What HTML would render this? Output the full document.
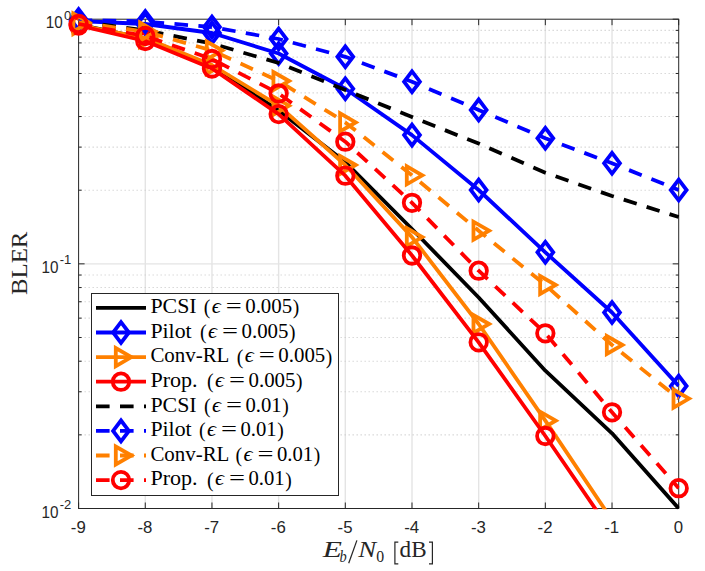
<!DOCTYPE html><html><head><meta charset="utf-8"><style>html,body{margin:0;padding:0;background:#fff}svg{display:block}</style></head><body><svg width="705" height="571" viewBox="0 0 705 571">
<defs><clipPath id="cp"><rect x="78.0" y="18.599999999999998" width="601.3000000000001" height="490.7"/></clipPath></defs>
<rect width="705" height="571" fill="#fff"/>
<line x1="145.28" y1="19.2" x2="145.28" y2="508.5" stroke="#e4e4e4" stroke-width="1.4"/>
<line x1="211.96" y1="19.2" x2="211.96" y2="508.5" stroke="#e4e4e4" stroke-width="1.4"/>
<line x1="278.63" y1="19.2" x2="278.63" y2="508.5" stroke="#e4e4e4" stroke-width="1.4"/>
<line x1="345.31" y1="19.2" x2="345.31" y2="508.5" stroke="#e4e4e4" stroke-width="1.4"/>
<line x1="411.99" y1="19.2" x2="411.99" y2="508.5" stroke="#e4e4e4" stroke-width="1.4"/>
<line x1="478.67" y1="19.2" x2="478.67" y2="508.5" stroke="#e4e4e4" stroke-width="1.4"/>
<line x1="545.34" y1="19.2" x2="545.34" y2="508.5" stroke="#e4e4e4" stroke-width="1.4"/>
<line x1="612.02" y1="19.2" x2="612.02" y2="508.5" stroke="#e4e4e4" stroke-width="1.4"/>
<line x1="78.6" y1="263.85" x2="678.7" y2="263.85" stroke="#e4e4e4" stroke-width="1.4"/>
<line x1="80.6" y1="190.20" x2="678.7" y2="190.20" stroke="#cacaca" stroke-width="1.1" stroke-dasharray="1.1 2.9"/>
<line x1="80.6" y1="147.12" x2="678.7" y2="147.12" stroke="#cacaca" stroke-width="1.1" stroke-dasharray="1.1 2.9"/>
<line x1="80.6" y1="116.56" x2="678.7" y2="116.56" stroke="#cacaca" stroke-width="1.1" stroke-dasharray="1.1 2.9"/>
<line x1="80.6" y1="92.85" x2="678.7" y2="92.85" stroke="#cacaca" stroke-width="1.1" stroke-dasharray="1.1 2.9"/>
<line x1="80.6" y1="73.48" x2="678.7" y2="73.48" stroke="#cacaca" stroke-width="1.1" stroke-dasharray="1.1 2.9"/>
<line x1="80.6" y1="57.10" x2="678.7" y2="57.10" stroke="#cacaca" stroke-width="1.1" stroke-dasharray="1.1 2.9"/>
<line x1="80.6" y1="42.91" x2="678.7" y2="42.91" stroke="#cacaca" stroke-width="1.1" stroke-dasharray="1.1 2.9"/>
<line x1="80.6" y1="30.39" x2="678.7" y2="30.39" stroke="#cacaca" stroke-width="1.1" stroke-dasharray="1.1 2.9"/>
<line x1="80.6" y1="434.85" x2="678.7" y2="434.85" stroke="#cacaca" stroke-width="1.1" stroke-dasharray="1.1 2.9"/>
<line x1="80.6" y1="391.77" x2="678.7" y2="391.77" stroke="#cacaca" stroke-width="1.1" stroke-dasharray="1.1 2.9"/>
<line x1="80.6" y1="361.21" x2="678.7" y2="361.21" stroke="#cacaca" stroke-width="1.1" stroke-dasharray="1.1 2.9"/>
<line x1="80.6" y1="337.50" x2="678.7" y2="337.50" stroke="#cacaca" stroke-width="1.1" stroke-dasharray="1.1 2.9"/>
<line x1="80.6" y1="318.13" x2="678.7" y2="318.13" stroke="#cacaca" stroke-width="1.1" stroke-dasharray="1.1 2.9"/>
<line x1="80.6" y1="301.75" x2="678.7" y2="301.75" stroke="#cacaca" stroke-width="1.1" stroke-dasharray="1.1 2.9"/>
<line x1="80.6" y1="287.56" x2="678.7" y2="287.56" stroke="#cacaca" stroke-width="1.1" stroke-dasharray="1.1 2.9"/>
<line x1="80.6" y1="275.04" x2="678.7" y2="275.04" stroke="#cacaca" stroke-width="1.1" stroke-dasharray="1.1 2.9"/>
<line x1="78.60" y1="508.5" x2="78.60" y2="502.5" stroke="#262626" stroke-width="1"/>
<line x1="78.60" y1="19.2" x2="78.60" y2="25.2" stroke="#262626" stroke-width="1"/>
<line x1="145.28" y1="508.5" x2="145.28" y2="502.5" stroke="#262626" stroke-width="1"/>
<line x1="145.28" y1="19.2" x2="145.28" y2="25.2" stroke="#262626" stroke-width="1"/>
<line x1="211.96" y1="508.5" x2="211.96" y2="502.5" stroke="#262626" stroke-width="1"/>
<line x1="211.96" y1="19.2" x2="211.96" y2="25.2" stroke="#262626" stroke-width="1"/>
<line x1="278.63" y1="508.5" x2="278.63" y2="502.5" stroke="#262626" stroke-width="1"/>
<line x1="278.63" y1="19.2" x2="278.63" y2="25.2" stroke="#262626" stroke-width="1"/>
<line x1="345.31" y1="508.5" x2="345.31" y2="502.5" stroke="#262626" stroke-width="1"/>
<line x1="345.31" y1="19.2" x2="345.31" y2="25.2" stroke="#262626" stroke-width="1"/>
<line x1="411.99" y1="508.5" x2="411.99" y2="502.5" stroke="#262626" stroke-width="1"/>
<line x1="411.99" y1="19.2" x2="411.99" y2="25.2" stroke="#262626" stroke-width="1"/>
<line x1="478.67" y1="508.5" x2="478.67" y2="502.5" stroke="#262626" stroke-width="1"/>
<line x1="478.67" y1="19.2" x2="478.67" y2="25.2" stroke="#262626" stroke-width="1"/>
<line x1="545.34" y1="508.5" x2="545.34" y2="502.5" stroke="#262626" stroke-width="1"/>
<line x1="545.34" y1="19.2" x2="545.34" y2="25.2" stroke="#262626" stroke-width="1"/>
<line x1="612.02" y1="508.5" x2="612.02" y2="502.5" stroke="#262626" stroke-width="1"/>
<line x1="612.02" y1="19.2" x2="612.02" y2="25.2" stroke="#262626" stroke-width="1"/>
<line x1="678.70" y1="508.5" x2="678.70" y2="502.5" stroke="#262626" stroke-width="1"/>
<line x1="678.70" y1="19.2" x2="678.70" y2="25.2" stroke="#262626" stroke-width="1"/>
<line x1="78.6" y1="19.2" x2="84.6" y2="19.2" stroke="#262626" stroke-width="1"/>
<line x1="678.7" y1="19.2" x2="672.7" y2="19.2" stroke="#262626" stroke-width="1"/>
<line x1="78.6" y1="263.85" x2="84.6" y2="263.85" stroke="#262626" stroke-width="1"/>
<line x1="678.7" y1="263.85" x2="672.7" y2="263.85" stroke="#262626" stroke-width="1"/>
<line x1="78.6" y1="508.5" x2="84.6" y2="508.5" stroke="#262626" stroke-width="1"/>
<line x1="678.7" y1="508.5" x2="672.7" y2="508.5" stroke="#262626" stroke-width="1"/>
<line x1="78.6" y1="190.20" x2="81.6" y2="190.20" stroke="#262626" stroke-width="1"/>
<line x1="678.7" y1="190.20" x2="675.7" y2="190.20" stroke="#262626" stroke-width="1"/>
<line x1="78.6" y1="147.12" x2="81.6" y2="147.12" stroke="#262626" stroke-width="1"/>
<line x1="678.7" y1="147.12" x2="675.7" y2="147.12" stroke="#262626" stroke-width="1"/>
<line x1="78.6" y1="116.56" x2="81.6" y2="116.56" stroke="#262626" stroke-width="1"/>
<line x1="678.7" y1="116.56" x2="675.7" y2="116.56" stroke="#262626" stroke-width="1"/>
<line x1="78.6" y1="92.85" x2="81.6" y2="92.85" stroke="#262626" stroke-width="1"/>
<line x1="678.7" y1="92.85" x2="675.7" y2="92.85" stroke="#262626" stroke-width="1"/>
<line x1="78.6" y1="73.48" x2="81.6" y2="73.48" stroke="#262626" stroke-width="1"/>
<line x1="678.7" y1="73.48" x2="675.7" y2="73.48" stroke="#262626" stroke-width="1"/>
<line x1="78.6" y1="57.10" x2="81.6" y2="57.10" stroke="#262626" stroke-width="1"/>
<line x1="678.7" y1="57.10" x2="675.7" y2="57.10" stroke="#262626" stroke-width="1"/>
<line x1="78.6" y1="42.91" x2="81.6" y2="42.91" stroke="#262626" stroke-width="1"/>
<line x1="678.7" y1="42.91" x2="675.7" y2="42.91" stroke="#262626" stroke-width="1"/>
<line x1="78.6" y1="30.39" x2="81.6" y2="30.39" stroke="#262626" stroke-width="1"/>
<line x1="678.7" y1="30.39" x2="675.7" y2="30.39" stroke="#262626" stroke-width="1"/>
<line x1="78.6" y1="434.85" x2="81.6" y2="434.85" stroke="#262626" stroke-width="1"/>
<line x1="678.7" y1="434.85" x2="675.7" y2="434.85" stroke="#262626" stroke-width="1"/>
<line x1="78.6" y1="391.77" x2="81.6" y2="391.77" stroke="#262626" stroke-width="1"/>
<line x1="678.7" y1="391.77" x2="675.7" y2="391.77" stroke="#262626" stroke-width="1"/>
<line x1="78.6" y1="361.21" x2="81.6" y2="361.21" stroke="#262626" stroke-width="1"/>
<line x1="678.7" y1="361.21" x2="675.7" y2="361.21" stroke="#262626" stroke-width="1"/>
<line x1="78.6" y1="337.50" x2="81.6" y2="337.50" stroke="#262626" stroke-width="1"/>
<line x1="678.7" y1="337.50" x2="675.7" y2="337.50" stroke="#262626" stroke-width="1"/>
<line x1="78.6" y1="318.13" x2="81.6" y2="318.13" stroke="#262626" stroke-width="1"/>
<line x1="678.7" y1="318.13" x2="675.7" y2="318.13" stroke="#262626" stroke-width="1"/>
<line x1="78.6" y1="301.75" x2="81.6" y2="301.75" stroke="#262626" stroke-width="1"/>
<line x1="678.7" y1="301.75" x2="675.7" y2="301.75" stroke="#262626" stroke-width="1"/>
<line x1="78.6" y1="287.56" x2="81.6" y2="287.56" stroke="#262626" stroke-width="1"/>
<line x1="678.7" y1="287.56" x2="675.7" y2="287.56" stroke="#262626" stroke-width="1"/>
<line x1="78.6" y1="275.04" x2="81.6" y2="275.04" stroke="#262626" stroke-width="1"/>
<line x1="678.7" y1="275.04" x2="675.7" y2="275.04" stroke="#262626" stroke-width="1"/>
<rect x="78.6" y="19.2" width="600.1" height="489.3" fill="none" stroke="#262626" stroke-width="1"/>
<polyline points="78.60,24.50 145.28,38.50 211.96,66.00 278.63,110.50 345.31,162.00 411.99,229.00 478.67,297.50 545.34,370.70 612.02,433.30 678.70,508.50" fill="none" stroke="#000000" stroke-width="3.8" stroke-linejoin="round" clip-path="url(#cp)"/>
<polyline points="78.60,21.00 145.28,24.00 211.96,33.00 278.63,53.50 345.31,88.70 411.99,135.10 478.67,190.00 545.34,252.30 612.02,312.50 678.70,386.00" fill="none" stroke="#0000ff" stroke-width="3.8" stroke-linejoin="round" clip-path="url(#cp)"/>
<path d="M78.60 10.60L86.50 21.00L78.60 31.40L70.70 21.00Z" fill="none" stroke="#0000ff" stroke-width="3.8" stroke-linejoin="miter"/>
<path d="M145.28 13.60L153.18 24.00L145.28 34.40L137.38 24.00Z" fill="none" stroke="#0000ff" stroke-width="3.8" stroke-linejoin="miter"/>
<path d="M211.96 22.60L219.86 33.00L211.96 43.40L204.06 33.00Z" fill="none" stroke="#0000ff" stroke-width="3.8" stroke-linejoin="miter"/>
<path d="M278.63 43.10L286.53 53.50L278.63 63.90L270.73 53.50Z" fill="none" stroke="#0000ff" stroke-width="3.8" stroke-linejoin="miter"/>
<path d="M345.31 78.30L353.21 88.70L345.31 99.10L337.41 88.70Z" fill="none" stroke="#0000ff" stroke-width="3.8" stroke-linejoin="miter"/>
<path d="M411.99 124.70L419.89 135.10L411.99 145.50L404.09 135.10Z" fill="none" stroke="#0000ff" stroke-width="3.8" stroke-linejoin="miter"/>
<path d="M478.67 179.60L486.57 190.00L478.67 200.40L470.77 190.00Z" fill="none" stroke="#0000ff" stroke-width="3.8" stroke-linejoin="miter"/>
<path d="M545.34 241.90L553.24 252.30L545.34 262.70L537.44 252.30Z" fill="none" stroke="#0000ff" stroke-width="3.8" stroke-linejoin="miter"/>
<path d="M612.02 302.10L619.92 312.50L612.02 322.90L604.12 312.50Z" fill="none" stroke="#0000ff" stroke-width="3.8" stroke-linejoin="miter"/>
<path d="M678.70 375.60L686.60 386.00L678.70 396.40L670.80 386.00Z" fill="none" stroke="#0000ff" stroke-width="3.8" stroke-linejoin="miter"/>
<polyline points="78.60,25.00 145.28,38.00 211.96,65.00 278.63,105.70 345.31,165.00 411.99,237.10 478.67,324.00 545.34,420.70 612.02,520.00 678.70,620.00" fill="none" stroke="#ff8000" stroke-width="3.8" stroke-linejoin="round" clip-path="url(#cp)"/>
<path d="M89.00 25.00L73.40 15.99L73.40 34.01Z" fill="none" stroke="#ff8000" stroke-width="3.8" stroke-linejoin="miter" stroke-miterlimit="10"/>
<path d="M155.68 38.00L140.08 28.99L140.08 47.01Z" fill="none" stroke="#ff8000" stroke-width="3.8" stroke-linejoin="miter" stroke-miterlimit="10"/>
<path d="M222.36 65.00L206.76 55.99L206.76 74.01Z" fill="none" stroke="#ff8000" stroke-width="3.8" stroke-linejoin="miter" stroke-miterlimit="10"/>
<path d="M289.03 105.70L273.43 96.69L273.43 114.71Z" fill="none" stroke="#ff8000" stroke-width="3.8" stroke-linejoin="miter" stroke-miterlimit="10"/>
<path d="M355.71 165.00L340.11 155.99L340.11 174.01Z" fill="none" stroke="#ff8000" stroke-width="3.8" stroke-linejoin="miter" stroke-miterlimit="10"/>
<path d="M422.39 237.10L406.79 228.09L406.79 246.11Z" fill="none" stroke="#ff8000" stroke-width="3.8" stroke-linejoin="miter" stroke-miterlimit="10"/>
<path d="M489.07 324.00L473.47 314.99L473.47 333.01Z" fill="none" stroke="#ff8000" stroke-width="3.8" stroke-linejoin="miter" stroke-miterlimit="10"/>
<path d="M555.74 420.70L540.14 411.69L540.14 429.71Z" fill="none" stroke="#ff8000" stroke-width="3.8" stroke-linejoin="miter" stroke-miterlimit="10"/>
<polyline points="78.60,25.50 145.28,41.00 211.96,68.50 278.63,114.10 345.31,175.70 411.99,255.50 478.67,342.30 545.34,436.00 612.02,533.00 678.70,632.00" fill="none" stroke="#ff0000" stroke-width="3.8" stroke-linejoin="round" clip-path="url(#cp)"/>
<circle cx="78.60" cy="25.50" r="8.25" fill="none" stroke="#ff0000" stroke-width="3.8"/>
<circle cx="145.28" cy="41.00" r="8.25" fill="none" stroke="#ff0000" stroke-width="3.8"/>
<circle cx="211.96" cy="68.50" r="8.25" fill="none" stroke="#ff0000" stroke-width="3.8"/>
<circle cx="278.63" cy="114.10" r="8.25" fill="none" stroke="#ff0000" stroke-width="3.8"/>
<circle cx="345.31" cy="175.70" r="8.25" fill="none" stroke="#ff0000" stroke-width="3.8"/>
<circle cx="411.99" cy="255.50" r="8.25" fill="none" stroke="#ff0000" stroke-width="3.8"/>
<circle cx="478.67" cy="342.30" r="8.25" fill="none" stroke="#ff0000" stroke-width="3.8"/>
<circle cx="545.34" cy="436.00" r="8.25" fill="none" stroke="#ff0000" stroke-width="3.8"/>
<polyline points="78.60,21.60 145.28,30.30 211.96,43.50 278.63,63.00 345.31,90.00 411.99,117.00 478.67,143.60 545.34,172.70 612.02,196.00 678.70,217.00" fill="none" stroke="#000000" stroke-width="3.8" stroke-linejoin="round" stroke-dasharray="13.6 10.4" clip-path="url(#cp)"/>
<polyline points="78.60,19.50 145.28,21.60 211.96,27.00 278.63,39.00 345.31,56.80 411.99,81.70 478.67,109.90 545.34,138.30 612.02,163.30 678.70,190.00" fill="none" stroke="#0000ff" stroke-width="3.8" stroke-linejoin="round" stroke-dasharray="13.6 10.4" clip-path="url(#cp)"/>
<path d="M78.60 9.10L86.50 19.50L78.60 29.90L70.70 19.50Z" fill="none" stroke="#0000ff" stroke-width="3.8" stroke-linejoin="miter"/>
<path d="M145.28 11.20L153.18 21.60L145.28 32.00L137.38 21.60Z" fill="none" stroke="#0000ff" stroke-width="3.8" stroke-linejoin="miter"/>
<path d="M211.96 16.60L219.86 27.00L211.96 37.40L204.06 27.00Z" fill="none" stroke="#0000ff" stroke-width="3.8" stroke-linejoin="miter"/>
<path d="M278.63 28.60L286.53 39.00L278.63 49.40L270.73 39.00Z" fill="none" stroke="#0000ff" stroke-width="3.8" stroke-linejoin="miter"/>
<path d="M345.31 46.40L353.21 56.80L345.31 67.20L337.41 56.80Z" fill="none" stroke="#0000ff" stroke-width="3.8" stroke-linejoin="miter"/>
<path d="M411.99 71.30L419.89 81.70L411.99 92.10L404.09 81.70Z" fill="none" stroke="#0000ff" stroke-width="3.8" stroke-linejoin="miter"/>
<path d="M478.67 99.50L486.57 109.90L478.67 120.30L470.77 109.90Z" fill="none" stroke="#0000ff" stroke-width="3.8" stroke-linejoin="miter"/>
<path d="M545.34 127.90L553.24 138.30L545.34 148.70L537.44 138.30Z" fill="none" stroke="#0000ff" stroke-width="3.8" stroke-linejoin="miter"/>
<path d="M612.02 152.90L619.92 163.30L612.02 173.70L604.12 163.30Z" fill="none" stroke="#0000ff" stroke-width="3.8" stroke-linejoin="miter"/>
<path d="M678.70 179.60L686.60 190.00L678.70 200.40L670.80 190.00Z" fill="none" stroke="#0000ff" stroke-width="3.8" stroke-linejoin="miter"/>
<polyline points="78.60,22.50 145.28,31.60 211.96,50.50 278.63,81.00 345.31,122.40 411.99,175.30 478.67,230.70 545.34,285.00 612.02,345.00 678.70,398.60" fill="none" stroke="#ff8000" stroke-width="3.8" stroke-linejoin="round" stroke-dasharray="13.6 10.4" clip-path="url(#cp)"/>
<path d="M89.00 22.50L73.40 13.49L73.40 31.51Z" fill="none" stroke="#ff8000" stroke-width="3.8" stroke-linejoin="miter" stroke-miterlimit="10"/>
<path d="M155.68 31.60L140.08 22.59L140.08 40.61Z" fill="none" stroke="#ff8000" stroke-width="3.8" stroke-linejoin="miter" stroke-miterlimit="10"/>
<path d="M222.36 50.50L206.76 41.49L206.76 59.51Z" fill="none" stroke="#ff8000" stroke-width="3.8" stroke-linejoin="miter" stroke-miterlimit="10"/>
<path d="M289.03 81.00L273.43 71.99L273.43 90.01Z" fill="none" stroke="#ff8000" stroke-width="3.8" stroke-linejoin="miter" stroke-miterlimit="10"/>
<path d="M355.71 122.40L340.11 113.39L340.11 131.41Z" fill="none" stroke="#ff8000" stroke-width="3.8" stroke-linejoin="miter" stroke-miterlimit="10"/>
<path d="M422.39 175.30L406.79 166.29L406.79 184.31Z" fill="none" stroke="#ff8000" stroke-width="3.8" stroke-linejoin="miter" stroke-miterlimit="10"/>
<path d="M489.07 230.70L473.47 221.69L473.47 239.71Z" fill="none" stroke="#ff8000" stroke-width="3.8" stroke-linejoin="miter" stroke-miterlimit="10"/>
<path d="M555.74 285.00L540.14 275.99L540.14 294.01Z" fill="none" stroke="#ff8000" stroke-width="3.8" stroke-linejoin="miter" stroke-miterlimit="10"/>
<path d="M622.42 345.00L606.82 335.99L606.82 354.01Z" fill="none" stroke="#ff8000" stroke-width="3.8" stroke-linejoin="miter" stroke-miterlimit="10"/>
<path d="M689.10 398.60L673.50 389.59L673.50 407.61Z" fill="none" stroke="#ff8000" stroke-width="3.8" stroke-linejoin="miter" stroke-miterlimit="10"/>
<polyline points="78.60,24.00 145.28,36.00 211.96,59.00 278.63,93.50 345.31,141.70 411.99,202.80 478.67,270.70 545.34,333.30 612.02,412.30 678.70,488.20" fill="none" stroke="#ff0000" stroke-width="3.8" stroke-linejoin="round" stroke-dasharray="13.6 10.4" clip-path="url(#cp)"/>
<circle cx="78.60" cy="24.00" r="8.25" fill="none" stroke="#ff0000" stroke-width="3.8"/>
<circle cx="145.28" cy="36.00" r="8.25" fill="none" stroke="#ff0000" stroke-width="3.8"/>
<circle cx="211.96" cy="59.00" r="8.25" fill="none" stroke="#ff0000" stroke-width="3.8"/>
<circle cx="278.63" cy="93.50" r="8.25" fill="none" stroke="#ff0000" stroke-width="3.8"/>
<circle cx="345.31" cy="141.70" r="8.25" fill="none" stroke="#ff0000" stroke-width="3.8"/>
<circle cx="411.99" cy="202.80" r="8.25" fill="none" stroke="#ff0000" stroke-width="3.8"/>
<circle cx="478.67" cy="270.70" r="8.25" fill="none" stroke="#ff0000" stroke-width="3.8"/>
<circle cx="545.34" cy="333.30" r="8.25" fill="none" stroke="#ff0000" stroke-width="3.8"/>
<circle cx="612.02" cy="412.30" r="8.25" fill="none" stroke="#ff0000" stroke-width="3.8"/>
<circle cx="678.70" cy="488.20" r="8.25" fill="none" stroke="#ff0000" stroke-width="3.8"/>
<text x="78.30" y="533" font-family="Liberation Sans, sans-serif" font-size="16.8" fill="#262626" text-anchor="middle">-9</text>
<text x="144.98" y="533" font-family="Liberation Sans, sans-serif" font-size="16.8" fill="#262626" text-anchor="middle">-8</text>
<text x="211.66" y="533" font-family="Liberation Sans, sans-serif" font-size="16.8" fill="#262626" text-anchor="middle">-7</text>
<text x="278.33" y="533" font-family="Liberation Sans, sans-serif" font-size="16.8" fill="#262626" text-anchor="middle">-6</text>
<text x="345.01" y="533" font-family="Liberation Sans, sans-serif" font-size="16.8" fill="#262626" text-anchor="middle">-5</text>
<text x="411.69" y="533" font-family="Liberation Sans, sans-serif" font-size="16.8" fill="#262626" text-anchor="middle">-4</text>
<text x="478.37" y="533" font-family="Liberation Sans, sans-serif" font-size="16.8" fill="#262626" text-anchor="middle">-3</text>
<text x="545.04" y="533" font-family="Liberation Sans, sans-serif" font-size="16.8" fill="#262626" text-anchor="middle">-2</text>
<text x="611.72" y="533" font-family="Liberation Sans, sans-serif" font-size="16.8" fill="#262626" text-anchor="middle">-1</text>
<text x="678.40" y="533" font-family="Liberation Sans, sans-serif" font-size="16.8" fill="#262626" text-anchor="middle">0</text>
<text x="64.07" y="19.80" font-family="Liberation Sans, sans-serif" font-size="13" fill="#262626">0</text>
<text x="45.87" y="28.30" font-family="Liberation Sans, sans-serif" font-size="16.8" fill="#262626" textLength="17.0" lengthAdjust="spacingAndGlyphs">10</text>
<text x="59.74" y="264.45" font-family="Liberation Sans, sans-serif" font-size="13" fill="#262626">-1</text>
<text x="41.54" y="272.95" font-family="Liberation Sans, sans-serif" font-size="16.8" fill="#262626" textLength="17.0" lengthAdjust="spacingAndGlyphs">10</text>
<text x="59.74" y="509.10" font-family="Liberation Sans, sans-serif" font-size="13" fill="#262626">-2</text>
<text x="41.54" y="517.60" font-family="Liberation Sans, sans-serif" font-size="16.8" fill="#262626" textLength="17.0" lengthAdjust="spacingAndGlyphs">10</text>
<text transform="translate(26.9,263.3) rotate(-90)" font-family="Liberation Serif, serif" font-size="24" fill="#262626" text-anchor="middle" textLength="63.5" lengthAdjust="spacingAndGlyphs">BLER</text>
<text x="322.8" y="557.4" font-family="Liberation Serif, serif" font-size="23.2" fill="#262626" font-style="italic" textLength="19.2" lengthAdjust="spacingAndGlyphs">E</text>
<text x="339.6" y="561.6999999999999" font-family="Liberation Serif, serif" font-size="17" fill="#262626" font-style="italic" textLength="7.2" lengthAdjust="spacingAndGlyphs">b</text>
<line x1="348.7" y1="563.2" x2="356.9" y2="540.4" stroke="#262626" stroke-width="1.25"/>
<text x="358.3" y="557.4" font-family="Liberation Serif, serif" font-size="23.2" fill="#262626" font-style="italic" textLength="17.9" lengthAdjust="spacingAndGlyphs">N</text>
<text x="376.2" y="561.9" font-family="Liberation Serif, serif" font-size="16.6" fill="#262626" textLength="7.9" lengthAdjust="spacingAndGlyphs">0</text>
<path d="M398.3 542.2H394.9V563.8H398.3" fill="none" stroke="#262626" stroke-width="1.2"/>
<text x="399.6" y="557.4" font-family="Liberation Serif, serif" font-size="23.5" fill="#262626" textLength="27.0" lengthAdjust="spacingAndGlyphs">dB</text>
<path d="M429.0 542.2H432.4V563.8H429.0" fill="none" stroke="#262626" stroke-width="1.2"/>
<rect x="91.5" y="293.5" width="247.0" height="202.0" fill="#fff" stroke="#262626" stroke-width="1"/>
<line x1="96" y1="307.90" x2="146" y2="307.90" stroke="#000000" stroke-width="3.8"/>
<text x="150.40" y="313.20" font-family="Liberation Serif, serif" font-size="20" fill="#000" textLength="46.20" lengthAdjust="spacingAndGlyphs">PCSI</text>
<text x="203.70" y="314.40" font-family="Liberation Serif, serif" font-size="22" fill="#000" textLength="6.60" lengthAdjust="spacingAndGlyphs">(</text>
<text x="211.70" y="313.20" font-family="Liberation Serif, serif" font-size="20" fill="#000" font-style="italic" textLength="9.00" lengthAdjust="spacingAndGlyphs">&#x3f5;</text>
<text x="225.70" y="313.20" font-family="Liberation Serif, serif" font-size="20" fill="#000" textLength="16.00" lengthAdjust="spacingAndGlyphs">=</text>
<text x="245.20" y="313.20" font-family="Liberation Serif, serif" font-size="20" fill="#000" textLength="47.00" lengthAdjust="spacingAndGlyphs">0.005</text>
<text x="292.70" y="314.40" font-family="Liberation Serif, serif" font-size="22" fill="#000" textLength="6.50" lengthAdjust="spacingAndGlyphs">)</text>
<line x1="96" y1="332.50" x2="146" y2="332.50" stroke="#0000ff" stroke-width="3.8"/>
<path d="M121.00 322.10L128.90 332.50L121.00 342.90L113.10 332.50Z" fill="none" stroke="#0000ff" stroke-width="3.8" stroke-linejoin="miter"/>
<text x="150.40" y="337.80" font-family="Liberation Serif, serif" font-size="20" fill="#000" textLength="41.20" lengthAdjust="spacingAndGlyphs">Pilot</text>
<text x="200.00" y="339.00" font-family="Liberation Serif, serif" font-size="22" fill="#000" textLength="6.60" lengthAdjust="spacingAndGlyphs">(</text>
<text x="208.00" y="337.80" font-family="Liberation Serif, serif" font-size="20" fill="#000" font-style="italic" textLength="9.00" lengthAdjust="spacingAndGlyphs">&#x3f5;</text>
<text x="222.00" y="337.80" font-family="Liberation Serif, serif" font-size="20" fill="#000" textLength="16.00" lengthAdjust="spacingAndGlyphs">=</text>
<text x="241.50" y="337.80" font-family="Liberation Serif, serif" font-size="20" fill="#000" textLength="47.00" lengthAdjust="spacingAndGlyphs">0.005</text>
<text x="289.00" y="339.00" font-family="Liberation Serif, serif" font-size="22" fill="#000" textLength="6.50" lengthAdjust="spacingAndGlyphs">)</text>
<line x1="96" y1="357.10" x2="146" y2="357.10" stroke="#ff8000" stroke-width="3.8"/>
<path d="M131.40 357.10L115.80 348.09L115.80 366.11Z" fill="none" stroke="#ff8000" stroke-width="3.8" stroke-linejoin="miter" stroke-miterlimit="10"/>
<text x="150.40" y="362.40" font-family="Liberation Serif, serif" font-size="20" fill="#000" textLength="79.00" lengthAdjust="spacingAndGlyphs">Conv-RL</text>
<text x="236.80" y="363.60" font-family="Liberation Serif, serif" font-size="22" fill="#000" textLength="6.60" lengthAdjust="spacingAndGlyphs">(</text>
<text x="244.80" y="362.40" font-family="Liberation Serif, serif" font-size="20" fill="#000" font-style="italic" textLength="9.00" lengthAdjust="spacingAndGlyphs">&#x3f5;</text>
<text x="258.80" y="362.40" font-family="Liberation Serif, serif" font-size="20" fill="#000" textLength="16.00" lengthAdjust="spacingAndGlyphs">=</text>
<text x="278.30" y="362.40" font-family="Liberation Serif, serif" font-size="20" fill="#000" textLength="47.00" lengthAdjust="spacingAndGlyphs">0.005</text>
<text x="325.80" y="363.60" font-family="Liberation Serif, serif" font-size="22" fill="#000" textLength="6.50" lengthAdjust="spacingAndGlyphs">)</text>
<line x1="96" y1="381.70" x2="146" y2="381.70" stroke="#ff0000" stroke-width="3.8"/>
<circle cx="121.00" cy="381.70" r="8.25" fill="none" stroke="#ff0000" stroke-width="3.8"/>
<text x="150.40" y="387.00" font-family="Liberation Serif, serif" font-size="20" fill="#000" textLength="47.20" lengthAdjust="spacingAndGlyphs">Prop.</text>
<text x="207.00" y="388.20" font-family="Liberation Serif, serif" font-size="22" fill="#000" textLength="6.60" lengthAdjust="spacingAndGlyphs">(</text>
<text x="215.00" y="387.00" font-family="Liberation Serif, serif" font-size="20" fill="#000" font-style="italic" textLength="9.00" lengthAdjust="spacingAndGlyphs">&#x3f5;</text>
<text x="229.00" y="387.00" font-family="Liberation Serif, serif" font-size="20" fill="#000" textLength="16.00" lengthAdjust="spacingAndGlyphs">=</text>
<text x="248.50" y="387.00" font-family="Liberation Serif, serif" font-size="20" fill="#000" textLength="47.00" lengthAdjust="spacingAndGlyphs">0.005</text>
<text x="296.00" y="388.20" font-family="Liberation Serif, serif" font-size="22" fill="#000" textLength="6.50" lengthAdjust="spacingAndGlyphs">)</text>
<line x1="96" y1="406.30" x2="146" y2="406.30" stroke="#000000" stroke-width="3.8" stroke-dasharray="13.6 10.4"/>
<text x="150.40" y="411.60" font-family="Liberation Serif, serif" font-size="20" fill="#000" textLength="46.20" lengthAdjust="spacingAndGlyphs">PCSI</text>
<text x="204.00" y="412.80" font-family="Liberation Serif, serif" font-size="22" fill="#000" textLength="6.60" lengthAdjust="spacingAndGlyphs">(</text>
<text x="212.00" y="411.60" font-family="Liberation Serif, serif" font-size="20" fill="#000" font-style="italic" textLength="9.00" lengthAdjust="spacingAndGlyphs">&#x3f5;</text>
<text x="226.00" y="411.60" font-family="Liberation Serif, serif" font-size="20" fill="#000" textLength="16.00" lengthAdjust="spacingAndGlyphs">=</text>
<text x="245.50" y="411.60" font-family="Liberation Serif, serif" font-size="20" fill="#000" textLength="36.20" lengthAdjust="spacingAndGlyphs">0.01</text>
<text x="282.20" y="412.80" font-family="Liberation Serif, serif" font-size="22" fill="#000" textLength="6.50" lengthAdjust="spacingAndGlyphs">)</text>
<line x1="96" y1="430.90" x2="146" y2="430.90" stroke="#0000ff" stroke-width="3.8" stroke-dasharray="13.6 10.4"/>
<path d="M121.00 420.50L128.90 430.90L121.00 441.30L113.10 430.90Z" fill="none" stroke="#0000ff" stroke-width="3.8" stroke-linejoin="miter"/>
<text x="150.40" y="436.20" font-family="Liberation Serif, serif" font-size="20" fill="#000" textLength="41.20" lengthAdjust="spacingAndGlyphs">Pilot</text>
<text x="199.00" y="437.40" font-family="Liberation Serif, serif" font-size="22" fill="#000" textLength="6.60" lengthAdjust="spacingAndGlyphs">(</text>
<text x="207.00" y="436.20" font-family="Liberation Serif, serif" font-size="20" fill="#000" font-style="italic" textLength="9.00" lengthAdjust="spacingAndGlyphs">&#x3f5;</text>
<text x="221.00" y="436.20" font-family="Liberation Serif, serif" font-size="20" fill="#000" textLength="16.00" lengthAdjust="spacingAndGlyphs">=</text>
<text x="240.50" y="436.20" font-family="Liberation Serif, serif" font-size="20" fill="#000" textLength="36.20" lengthAdjust="spacingAndGlyphs">0.01</text>
<text x="277.20" y="437.40" font-family="Liberation Serif, serif" font-size="22" fill="#000" textLength="6.50" lengthAdjust="spacingAndGlyphs">)</text>
<line x1="96" y1="455.50" x2="146" y2="455.50" stroke="#ff8000" stroke-width="3.8" stroke-dasharray="13.6 10.4"/>
<path d="M131.40 455.50L115.80 446.49L115.80 464.51Z" fill="none" stroke="#ff8000" stroke-width="3.8" stroke-linejoin="miter" stroke-miterlimit="10"/>
<text x="150.40" y="460.80" font-family="Liberation Serif, serif" font-size="20" fill="#000" textLength="79.00" lengthAdjust="spacingAndGlyphs">Conv-RL</text>
<text x="235.50" y="462.00" font-family="Liberation Serif, serif" font-size="22" fill="#000" textLength="6.60" lengthAdjust="spacingAndGlyphs">(</text>
<text x="243.50" y="460.80" font-family="Liberation Serif, serif" font-size="20" fill="#000" font-style="italic" textLength="9.00" lengthAdjust="spacingAndGlyphs">&#x3f5;</text>
<text x="257.50" y="460.80" font-family="Liberation Serif, serif" font-size="20" fill="#000" textLength="16.00" lengthAdjust="spacingAndGlyphs">=</text>
<text x="277.00" y="460.80" font-family="Liberation Serif, serif" font-size="20" fill="#000" textLength="36.20" lengthAdjust="spacingAndGlyphs">0.01</text>
<text x="313.70" y="462.00" font-family="Liberation Serif, serif" font-size="22" fill="#000" textLength="6.50" lengthAdjust="spacingAndGlyphs">)</text>
<line x1="96" y1="480.10" x2="146" y2="480.10" stroke="#ff0000" stroke-width="3.8" stroke-dasharray="13.6 10.4"/>
<circle cx="121.00" cy="480.10" r="8.25" fill="none" stroke="#ff0000" stroke-width="3.8"/>
<text x="150.40" y="485.40" font-family="Liberation Serif, serif" font-size="20" fill="#000" textLength="47.20" lengthAdjust="spacingAndGlyphs">Prop.</text>
<text x="207.00" y="486.60" font-family="Liberation Serif, serif" font-size="22" fill="#000" textLength="6.60" lengthAdjust="spacingAndGlyphs">(</text>
<text x="215.00" y="485.40" font-family="Liberation Serif, serif" font-size="20" fill="#000" font-style="italic" textLength="9.00" lengthAdjust="spacingAndGlyphs">&#x3f5;</text>
<text x="229.00" y="485.40" font-family="Liberation Serif, serif" font-size="20" fill="#000" textLength="16.00" lengthAdjust="spacingAndGlyphs">=</text>
<text x="248.50" y="485.40" font-family="Liberation Serif, serif" font-size="20" fill="#000" textLength="36.20" lengthAdjust="spacingAndGlyphs">0.01</text>
<text x="285.20" y="486.60" font-family="Liberation Serif, serif" font-size="22" fill="#000" textLength="6.50" lengthAdjust="spacingAndGlyphs">)</text>
</svg></body></html>
